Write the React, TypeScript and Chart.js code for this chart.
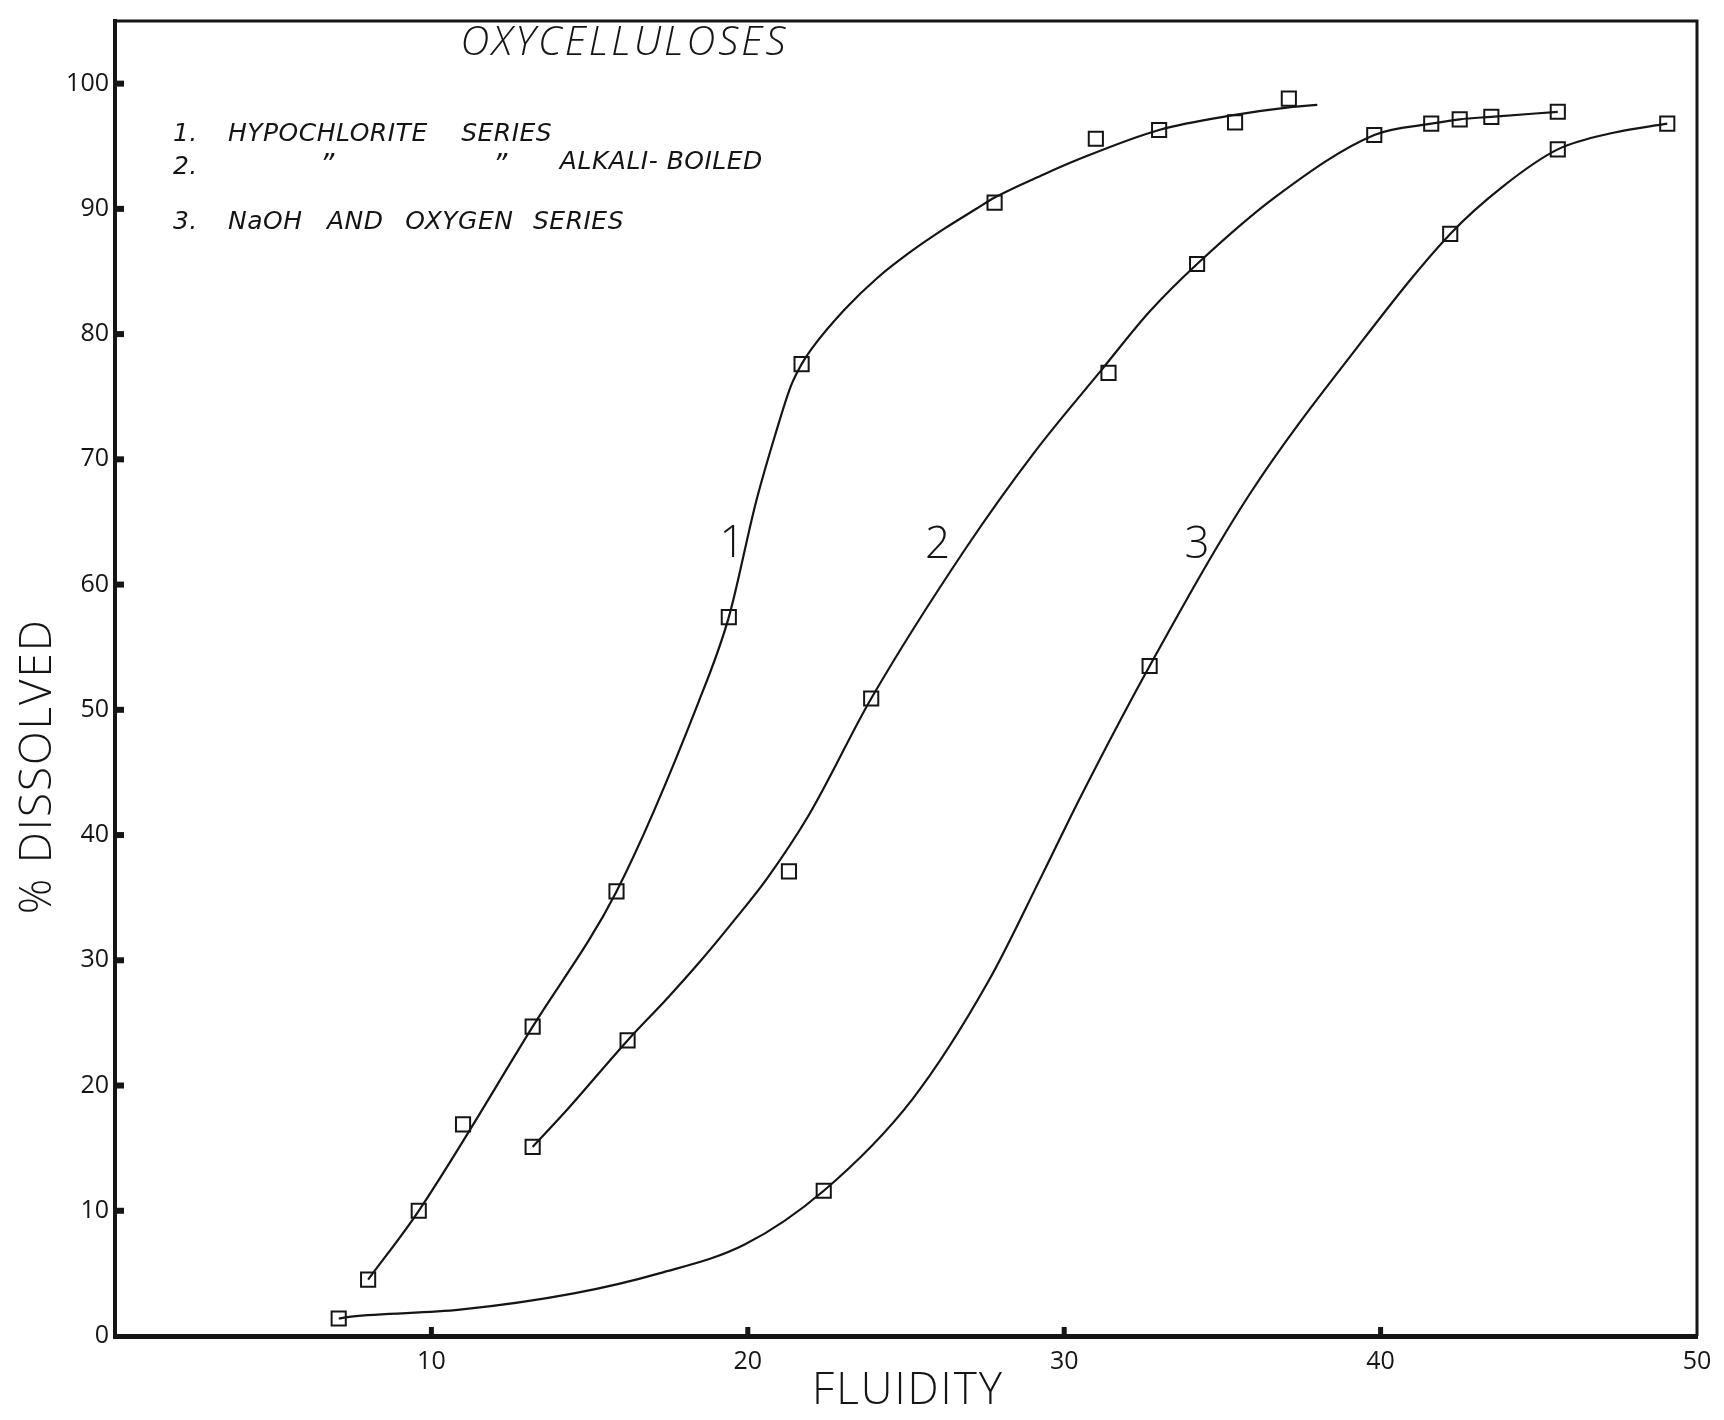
import React, { useEffect, useRef } from "react";
import { Chart, registerables } from "chart.js";

Chart.register(...registerables);

// ---------- Data ----------
// Measured points (open squares)
const series1X = [8.0, 9.6, 11.0, 13.2, 15.85, 19.4, 21.7, 27.8, 31.0, 33.0, 35.4, 37.1];
const series1Y = [4.5, 10.0, 16.9, 24.7, 35.5, 57.4, 77.6, 90.5, 95.6, 96.3, 96.9, 98.8];

const series2X = [13.2, 16.2, 21.3, 23.9, 31.4, 34.2, 39.8, 41.6, 42.5, 43.5, 45.6];
const series2Y = [15.1, 23.6, 37.1, 50.9, 76.9, 85.6, 95.9, 96.8, 97.15, 97.35, 97.75];

const series3X = [7.07, 22.4, 32.7, 42.2, 45.6, 49.06];
const series3Y = [1.4, 11.6, 53.5, 88.0, 94.75, 96.8];

// Hand-drawn smooth curves
const curve1X = [8.0, 9.6, 13.2, 15.85, 18.44, 19.4, 20.25, 20.86, 21.37, 21.7, 22.01, 23.06, 24.1, 25.16, 26.2, 27.25, 27.8, 29.35, 30.4, 33.0, 35.4, 37.1, 38.0];
const curve1Y = [4.5, 10.0, 24.7, 35.5, 50.6, 57.4, 66.5, 71.9, 75.9, 77.6, 78.8, 81.96, 84.5, 86.6, 88.4, 90.05, 90.9, 92.75, 93.9, 96.3, 97.5, 98.1, 98.3];

const curve2X = [13.2, 14.23, 16.2, 17.45, 18.49, 19.53, 20.6, 21.93, 23.9, 26.89, 29.07, 31.2, 32.7, 34.2, 36.7, 39.8, 41.6, 42.5, 43.5, 45.6];
const curve2Y = [15.1, 17.9, 23.6, 26.95, 29.9, 33.07, 36.5, 41.6, 50.9, 62.9, 70.6, 77.2, 81.8, 85.6, 91.0, 95.9, 96.8, 97.15, 97.35, 97.75];

const curve3X = [7.07, 7.46, 10.9, 14.5, 17.2, 19.9, 22.4, 25.2, 27.6, 29.3, 30.5, 32.7, 35.87, 39.25, 42.2, 43.87, 45.6, 47.4, 49.06];
const curve3Y = [1.4, 1.55, 2.1, 3.4, 5.0, 7.3, 11.6, 18.9, 28.3, 36.8, 42.96, 53.5, 67.25, 78.9, 88.0, 91.8, 94.75, 96.1, 96.8];

// Axis ticks
const xTicks = [0, 10, 20, 30, 40, 50];
const yTicks = [0, 10, 20, 30, 40, 50, 60, 70, 80, 90, 100];

// Texts
const chartTitle = "OXYCELLULOSES";
const xTitle = "FLUIDITY";
const yTitle = "% DISSOLVED";
const curveLabels = ["1", "2", "3"];
const legendNumbers = ["1.", "2.", "3."];
const legendLine1 = ["HYPOCHLORITE", "SERIES"];
const legendLine2 = ["\u201D", "\u201D", "ALKALI- BOILED"];
const legendLine3 = ["NaOH", "AND", "OXYGEN", "SERIES"];

// ---------- Styling ----------
const INK = "#151515";
const FONT = "'Open Sans', 'DejaVu Sans', sans-serif";
const HAND = "'DejaVu Sans', 'Open Sans', sans-serif";

const toPoints = (xs: number[], ys: number[]) => xs.map((x, i) => ({ x, y: ys[i] }));

const annotationPlugin = {
  id: "annotations",
  afterDraw(chart: any) {
    const { ctx, chartArea, scales } = chart;
    const xs = scales.x;
    const ys = scales.y;
    const px = (v: number) => xs.getPixelForValue(v);
    const py = (v: number) => ys.getPixelForValue(v);
    ctx.save();
    ctx.fillStyle = INK;
    ctx.strokeStyle = INK;

    // top and right frame lines
    ctx.lineWidth = 3;
    ctx.beginPath();
    ctx.moveTo(chartArea.left, chartArea.top);
    ctx.lineTo(chartArea.right, chartArea.top);
    ctx.lineTo(chartArea.right, chartArea.bottom);
    ctx.stroke();

    // inner tick marks
    ys.ticks.forEach((t: any) => {
      if (t.value <= 0) return;
      const y = py(t.value);
      ctx.fillRect(chartArea.left, y - 3, 9, 6);
    });
    xs.ticks.forEach((t: any) => {
      if (t.value <= 0 || t.value >= 50) return;
      const x = px(t.value);
      ctx.fillRect(x - 2.5, chartArea.bottom - 9, 5, 9);
    });

    const setSpacing = (s: string) => {
      try {
        (ctx as any).letterSpacing = s;
      } catch (e) {
        /* ignore */
      }
    };

    // y axis title (rotated)
    ctx.save();
    ctx.translate(38, py(45.5));
    ctx.rotate(-Math.PI / 2);
    setSpacing("2px");
    ctx.font = `300 44px ${FONT}`;
    ctx.textAlign = "center";
    ctx.textBaseline = "middle";
    ctx.fillText(yTitle, 0, 0);
    ctx.restore();

    // x axis title
    setSpacing("2px");
    ctx.font = `300 44px ${FONT}`;
    ctx.textAlign = "center";
    ctx.textBaseline = "middle";
    ctx.fillText(xTitle, (chartArea.left + chartArea.right) / 2 + 2, chartArea.bottom + 55);

    // chart title
    setSpacing("3px");
    ctx.font = `italic 300 40px ${FONT}`;
    ctx.textAlign = "center";
    ctx.fillText(chartTitle, px(16.1), py(103.2));

    // legend block
    setSpacing("0.5px");
    ctx.font = `italic 400 25px ${HAND}`;
    ctx.textAlign = "left";
    ctx.fillText(legendNumbers[0], px(1.83), py(95.9));
    ctx.fillText(legendNumbers[1], px(1.83), py(93.3));
    ctx.fillText(legendNumbers[2], px(1.83), py(88.95));
    ctx.fillText(legendLine1[0], px(3.57), py(95.9));
    ctx.fillText(legendLine1[1], px(10.94), py(95.9));
    ctx.textAlign = "center";
    setSpacing("0px");
    ctx.font = `italic 400 28px ${HAND}`;
    ctx.fillText(legendLine2[0], px(6.7), py(93.4));
    ctx.fillText(legendLine2[1], px(12.17), py(93.4));
    ctx.textAlign = "left";
    setSpacing("0.5px");
    ctx.font = `italic 400 25px ${HAND}`;
    ctx.fillText(legendLine2[2], px(14.06), py(93.7));
    ctx.fillText(legendLine3[0], px(3.57), py(88.95));
    ctx.fillText(legendLine3[1], px(6.7), py(88.95));
    ctx.fillText(legendLine3[2], px(9.17), py(88.95));
    ctx.fillText(legendLine3[3], px(13.21), py(88.95));

    // curve labels
    setSpacing("0px");
    ctx.font = `300 44px ${FONT}`;
    ctx.textAlign = "center";
    ctx.fillText(curveLabels[0], px(19.5), py(63.2));
    ctx.fillText(curveLabels[1], px(26.0), py(63.1));
    ctx.fillText(curveLabels[2], px(34.2), py(63.1));

    ctx.restore();
  },
};

const curveStyle = {
  showLine: true,
  borderColor: INK,
  borderWidth: 2.2,
  pointRadius: 0,
  pointHoverRadius: 0,
  cubicInterpolationMode: "monotone" as const,
  fill: false,
};

const markerStyle = {
  showLine: false,
  pointStyle: "rect" as const,
  pointRadius: 10,
  pointBorderWidth: 2,
  pointBorderColor: INK,
  pointBackgroundColor: "#ffffff",
};

const dotStyle = {
  showLine: false,
  pointStyle: "circle" as const,
  pointRadius: 1.3,
  pointBorderWidth: 0,
  pointBackgroundColor: INK,
};

export default function App() {
  const canvasRef = useRef<HTMLCanvasElement | null>(null);

  useEffect(() => {
    const canvas = canvasRef.current;
    if (!canvas) return;
    const allMarkers = [
      ...toPoints(series1X, series1Y),
      ...toPoints(series2X, series2Y),
      ...toPoints(series3X, series3Y),
    ];
    const chart = new Chart(canvas, {
      type: "scatter",
      data: {
        datasets: [
          { label: "curve 1", data: toPoints(curve1X, curve1Y), ...curveStyle },
          { label: "curve 2", data: toPoints(curve2X, curve2Y), ...curveStyle },
          { label: "curve 3", data: toPoints(curve3X, curve3Y), ...curveStyle },
          { label: "1", data: toPoints(series1X, series1Y), ...markerStyle },
          { label: "2", data: toPoints(series2X, series2Y), ...markerStyle },
          { label: "3", data: toPoints(series3X, series3Y), ...markerStyle },
          { label: "dots", data: allMarkers, ...dotStyle },
        ] as any,
      },
      options: {
        responsive: false,
        animation: false,
        devicePixelRatio: 1,
        layout: { padding: { left: 0, top: 15, right: 27, bottom: 0 } },
        plugins: {
          legend: { display: false },
          tooltip: { enabled: false },
          title: { display: false },
        },
        scales: {
          x: {
            type: "linear",
            min: xTicks[0],
            max: xTicks[xTicks.length - 1],
            afterBuildTicks: (s: any) => {
              s.ticks = xTicks.map((v) => ({ value: v }));
            },
            afterFit: (s: any) => {
              s.height = 84;
            },
            ticks: {
              color: INK,
              padding: 11,
              maxRotation: 0,
              font: { family: FONT, size: 25, weight: "400" as any },
              callback: (v: any) => (Number(v) === 0 ? "" : String(v)),
            },
            grid: { display: false, drawTicks: false },
            border: { display: true, color: INK, width: 5 },
            title: { display: false },
          },
          y: {
            type: "linear",
            min: 0,
            max: 105,
            afterBuildTicks: (s: any) => {
              s.ticks = yTicks.map((v) => ({ value: v }));
            },
            afterFit: (s: any) => {
              s.width = 115;
            },
            ticks: {
              color: INK,
              padding: 6,
              font: { family: FONT, size: 25, weight: "400" as any },
              callback: (v: any) => String(v),
            },
            grid: { display: false, drawTicks: false },
            border: { display: true, color: INK, width: 4 },
            title: { display: false },
          },
        },
      },
      plugins: [annotationPlugin],
    });
    return () => chart.destroy();
  }, []);

  return (
    <div style={{ position: "absolute", left: 0, top: 0, width: 1724, height: 1420, background: "#fff" }}>
      <canvas ref={canvasRef} width={1724} height={1420} style={{ width: 1724, height: 1420, display: "block" }} />
    </div>
  );
}
